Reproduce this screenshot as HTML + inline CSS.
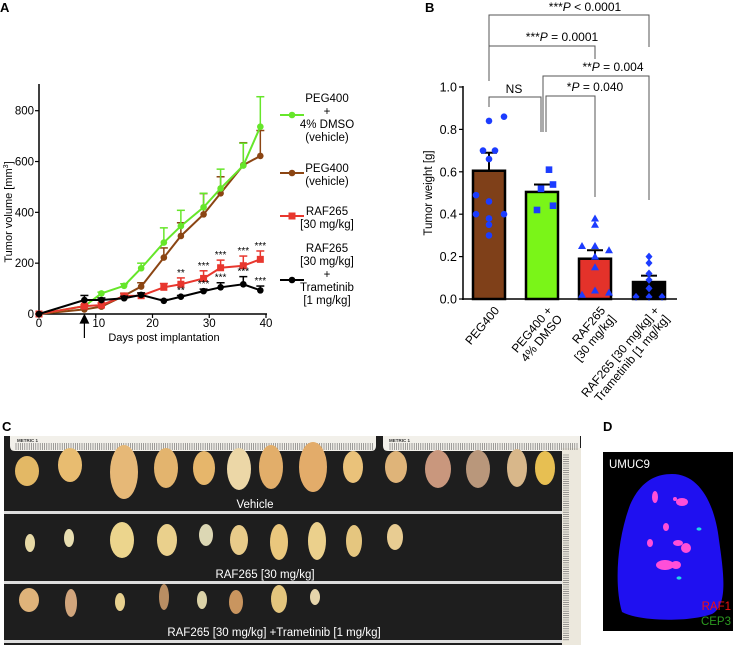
<!DOCTYPE html>
<html><head><meta charset="utf-8"><style>
html,body{margin:0;padding:0;background:#fff;}
svg{display:block;font-family:"Liberation Sans",Arial,sans-serif;}
</style></head><body>
<svg id="fig" width="734" height="645" viewBox="0 0 734 645">
<g id="pA"></g>
<g id="pB"></g>
<g id="pC"></g>
<g id="pD"></g>
</svg>
<script>
// ---- Panel A data ----
const aDays = [0, 8, 11, 15, 18, 22, 25, 29, 32, 36, 39];
const aGreen = [0, 31, 81, 111, 180, 281, 346, 420, 494, 584, 737];
const aGreenErr = [0, 5, 5, 8, 20, 58, 62, 55, 76, 88, 118];
const aBrown = [0, 18, 29, 72, 108, 222, 307, 392, 475, 586, 622];
const aBrownErr = [0, 5, 5, 10, 15, 38, 52, 82, 65, 88, 100];
const aRed = [0, 31, 35, 71, 72, 105, 117, 140, 182, 190, 215];
const aRedErr = [0, 5, 8, 8, 10, 15, 25, 30, 30, 38, 33];
const aBlack = [0, 55, 55, 62, 75, 52, 68, 90, 105, 117, 93];
const aBlackErr = [0, 18, 8, 8, 8, 5, 5, 8, 18, 30, 17];
const aRedStars = ["", "", "", "", "", "", "**", "***", "***", "***", "***"];
const aBlackStars = ["", "", "", "", "", "", "**", "***", "***", "***", "***"];
const aYTicks = [0, 200, 400, 600, 800];
const aXTicks = [0, 10, 20, 30, 40];
// ---- Panel B data ----
const bCats = ["PEG400", "PEG400 + 4% DMSO", "RAF265 [30 mg/kg]", "RAF265 [30 mg/kg] + Trametinib [1 mg/kg]"];
const bMeans = [0.605, 0.505, 0.19, 0.08];
const bErr = [0.085, 0.035, 0.04, 0.03];
const bPts0 = [0.84, 0.86, 0.70, 0.70, 0.66, 0.49, 0.46, 0.40, 0.40, 0.38, 0.35, 0.30];
const bPts1 = [0.61, 0.54, 0.52, 0.44, 0.42];
const bPts2 = [0.38, 0.35, 0.25, 0.25, 0.23, 0.20, 0.15, 0.04, 0.02, 0.03];
const bPts3 = [0.20, 0.17, 0.12, 0.09, 0.05, 0.01, 0.01, 0.01];
const bYTicks = [0.0, 0.2, 0.4, 0.6, 0.8, 1.0];

const NS = "http://www.w3.org/2000/svg";
function mk(parent, tag, attrs, text) {
  const e = document.createElementNS(NS, tag);
  for (const k in attrs) e.setAttribute(k, attrs[k]);
  if (text !== undefined) e.textContent = text;
  parent.appendChild(e);
  return e;
}

// ================= Panel A =================
const A = document.getElementById('pA');
const ax = d => 39 + d * (266 - 39) / 40;
const ay = v => 314 - v * (314 - 110.7) / 800;
let t = mk(A, 'text', {x: 0, y: 12, 'font-size': 13, 'font-weight': 'bold'}, 'A');


let yl = mk(A, 'text', {x: 12, y: 212, 'font-size': 11, 'text-anchor': 'middle', transform: 'rotate(-90 12 212)'});


yl.innerHTML = 'Tumor volume [mm<tspan font-size="7" dy="-4">3</tspan><tspan dy="4">]</tspan>';
let ya = mk(A, 'line', {x1: 39, y1: 84, x2: 39, y2: 314, stroke: '#000', 'stroke-width': 1.5});


let xa = mk(A, 'line', {x1: 39, y1: 314, x2: 267, y2: 314, stroke: '#000', 'stroke-width': 1.5});


aYTicks.forEach(v => {
  mk(A, 'line', {x1: 35, y1: ay(v), x2: 39, y2: ay(v), stroke: '#000', 'stroke-width': 1.2});
  let tl = mk(A, 'text', {x: 34, y: ay(v) + 4, 'font-size': 11.5, 'text-anchor': 'end'}, v);
  
  
});
aXTicks.forEach(v => {
  mk(A, 'line', {x1: ax(v), y1: 314, x2: ax(v), y2: 318, stroke: '#000', 'stroke-width': 1.2});
  let tl = mk(A, 'text', {x: ax(v) + (v === 10 ? 3 : 0), y: 327, 'font-size': 11.5, 'text-anchor': 'middle'}, v);
  
  
});
let xl = mk(A, 'text', {x: 164, y: 341, 'font-size': 11, 'text-anchor': 'middle'}, 'Days post implantation');


let arr = mk(A, 'path', {d: `M${ax(8)} 315 l-4 8 h8 z M${ax(8)} 321 V338`, stroke: '#000', fill: '#000', 'stroke-width': 1.2});



function series(vals, errs, color, marker, name) {
  const g = mk(A, 'g', {});
  
  
  vals.forEach((v, i) => {
    if (errs[i] > 0) {
      mk(g, 'line', {x1: ax(aDays[i]), y1: ay(v), x2: ax(aDays[i]), y2: ay(v + errs[i]), stroke: color, 'stroke-width': 1.5});
      mk(g, 'line', {x1: ax(aDays[i]) - 4, y1: ay(v + errs[i]), x2: ax(aDays[i]) + 4, y2: ay(v + errs[i]), stroke: color, 'stroke-width': 1.5});
    }
  });
  mk(g, 'polyline', {points: vals.map((v, i) => ax(aDays[i]) + ',' + ay(v)).join(' '), fill: 'none', stroke: color, 'stroke-width': 2});
  vals.forEach((v, i) => {
    let m;
    if (marker === 's') m = mk(g, 'rect', {x: ax(aDays[i]) - 3.5, y: ay(v) - 3.5, width: 7, height: 7, fill: color});
    else m = mk(g, 'circle', {cx: ax(aDays[i]), cy: ay(v), r: 3.3, fill: color});
    
    
  });
}
series(aBrown, aBrownErr, '#8B4513', 'c', 'series-peg400');
series(aGreen, aGreenErr, '#66e62a', 'c', 'series-peg400-dmso');
series(aRed, aRedErr, '#e8372e', 's', 'series-raf265');
series(aBlack, aBlackErr, '#000', 'c', 'series-raf265-trametinib');
aRedStars.forEach((s, i) => { if (s) { let e = mk(A, 'text', {x: ax(aDays[i]), y: ay(aRed[i] + aRedErr[i]) - 2, 'font-size': 10, 'text-anchor': 'middle'}, s);   } });
aBlackStars.forEach((s, i) => { if (s) { let e = mk(A, 'text', {x: ax(aDays[i]), y: ay(aBlack[i] + aBlackErr[i]) - 2, 'font-size': 10, 'text-anchor': 'middle'}, s);   } });

// legend
const legItems = [
  {c: '#66e62a', m: 'c', y: 115, lines: ['PEG400', '+', '4% DMSO', '(vehicle)'], ly: 102},
  {c: '#8B4513', m: 'c', y: 173, lines: ['PEG400', '(vehicle)'], ly: 172},
  {c: '#e8372e', m: 's', y: 216, lines: ['RAF265', '[30 mg/kg]'], ly: 215},
  {c: '#000', m: 'c', y: 280, lines: ['RAF265', '[30 mg/kg]', '+', 'Trametinib', '[1 mg/kg]'], ly: 252}
];
legItems.forEach(it => {
  const g = mk(A, 'g', {});
  
  
  mk(g, 'line', {x1: 280, y1: it.y, x2: 304, y2: it.y, stroke: it.c, 'stroke-width': 2});
  if (it.m === 's') mk(g, 'rect', {x: 288.5, y: it.y - 3.5, width: 7, height: 7, fill: it.c});
  else mk(g, 'circle', {cx: 292, cy: it.y, r: 3.3, fill: it.c});
  it.lines.forEach((l, i) => mk(g, 'text', {x: 327, y: it.ly + i * 13, 'font-size': 11.5, 'text-anchor': 'middle'}, l));
});

// ================= Panel B =================
const B = document.getElementById('pB');
const by = v => 299 - v * (299 - 87);
const bx = [489, 542, 595, 649];
const bColors = ['#7f4019', '#7af518', '#e4322a', '#000'];
t = mk(B, 'text', {x: 425, y: 12, 'font-size': 13, 'font-weight': 'bold'}, 'B');


let byl = mk(B, 'text', {x: 432, y: 193, 'font-size': 11.5, 'text-anchor': 'middle', transform: 'rotate(-90 432 193)'}, 'Tumor weight [g]');


bYTicks.forEach(v => {
  mk(B, 'line', {x1: 459, y1: by(v), x2: 463, y2: by(v), stroke: '#000', 'stroke-width': 1.2});
  let tl = mk(B, 'text', {x: 457, y: by(v) + 4.5, 'font-size': 12.5, 'text-anchor': 'end'}, v.toFixed(1));
  
  
});
bMeans.forEach((m, i) => {
  mk(B, 'line', {x1: bx[i], y1: by(m), x2: bx[i], y2: by(m + bErr[i]), stroke: '#000', 'stroke-width': 2});
  mk(B, 'line', {x1: bx[i] - 8, y1: by(m + bErr[i]), x2: bx[i] + 8, y2: by(m + bErr[i]), stroke: '#000', 'stroke-width': 2});
  let r = mk(B, 'rect', {x: bx[i] - 16, y: by(m), width: 32, height: by(0) - by(m), fill: bColors[i], stroke: '#000', 'stroke-width': 2.5});
  
  
});
const offs0 = [0, 15, -6, 6, 0, -13, 0, -13, 15, 0, 0, 0];
const offs1 = [7, 11, -1, 11, -5];
const offs2 = [0, 0, -13, 0, 14, 0, 0, 0, -13, 14];
const offs3 = [0, 0, 0, 0, 0, -13, 0, 13];
function pts(arrV, offs, i, shape) {
  arrV.forEach((v, k) => {
    const x = bx[i] + offs[k], y = by(v);
    let e;
    if (shape === 'c') e = mk(B, 'circle', {cx: x, cy: y, r: 3.3, fill: '#1c3cff'});
    else if (shape === 's') e = mk(B, 'rect', {x: x - 3.3, y: y - 3.3, width: 6.6, height: 6.6, fill: '#1c3cff'});
    else if (shape === 't') e = mk(B, 'path', {d: `M${x} ${y - 4} L${x + 4} ${y + 3} L${x - 4} ${y + 3} Z`, fill: '#1c3cff'});
    else e = mk(B, 'path', {d: `M${x} ${y - 4} L${x + 3.5} ${y} L${x} ${y + 4} L${x - 3.5} ${y} Z`, fill: '#1c3cff'});
    
    
  });
}
pts(bPts0, offs0, 0, 'c'); pts(bPts1, offs1, 1, 's'); pts(bPts2, offs2, 2, 't'); pts(bPts3, offs3, 3, 'd');
let bya = mk(B, 'line', {x1: 463, y1: 86, x2: 463, y2: 300, stroke: '#000', 'stroke-width': 1.5});


let bxa = mk(B, 'line', {x1: 462, y1: 299, x2: 677, y2: 299, stroke: '#000', 'stroke-width': 1.5});


const bLab = [['PEG400'], ['PEG400 +', '4% DMSO'], ['RAF265', '[30 mg/kg]'], ['RAF265 [30 mg/kg] +', 'Trametinib [1 mg/kg]']];
bLab.forEach((ls, i) => {
  const g = mk(B, 'g', {transform: `translate(${bx[i] + 4} 305) rotate(-50)`});
  
  
  ls.forEach((l, k) => mk(g, 'text', {x: 0, y: 9 + k * 13, 'font-size': 12, 'text-anchor': 'end'}, l));
});
// brackets
const brk = [
  {x1: 489, x2: 649, y: 15, l: 81, r: 47, tx: 585, ty: 11, txt: '***', p: ' < 0.0001'},
  {x1: 489, x2: 595, y: 46, l: 53, r: 59, tx: 562, ty: 41, txt: '***', p: ' = 0.0001'},
  {x1: 543, x2: 649, y: 76, l: 132, r: 200, tx: 613, ty: 71, txt: '**', p: ' = 0.004'},
  {x1: 546, x2: 595, y: 96, l: 132, r: 197, tx: 595, ty: 91, txt: '*', p: ' = 0.040'},
  {x1: 489, x2: 541, y: 97, l: 107, r: 132, tx: 514, ty: 93, txt: 'NS', p: ''}
];
brk.forEach(b => {
  const g = mk(B, 'g', {});
  
  
  mk(g, 'path', {d: `M${b.x1} ${b.l} V${b.y} H${b.x2} V${b.r}`, fill: 'none', stroke: '#555', 'stroke-width': 1});
  const tt = mk(g, 'text', {x: b.tx, y: b.ty, 'font-size': 12, 'text-anchor': 'middle'});
  if (b.p) tt.innerHTML = `${b.txt}<tspan font-style="italic">P</tspan>${b.p}`;
  else tt.textContent = b.txt;
});

// ================= Panel C =================
const C = document.getElementById('pC');
t = mk(C, 'text', {x: 2, y: 431, 'font-size': 13, 'font-weight': 'bold'}, 'C');


mk(C, 'rect', {x: 4, y: 436, width: 577, height: 209, fill: '#1e1e1e'});
mk(C, 'path', {d: 'M10 436 H376 V446 Q376 451 371 451 H15 Q10 451 10 446 Z', fill: '#f2f0ea'});
mk(C, 'path', {d: 'M383 436 H580 V451 H388 Q383 451 383 446 Z', fill: '#f2f0ea'});
mk(C, 'rect', {x: 562, y: 448, width: 19, height: 197, fill: '#ece8dd'});
let tk = '';
for (let x = 16; x < 374; x += 2.2) tk += `M${x.toFixed(1)} 443 V450 `;
for (let x = 390; x < 579; x += 2.2) tk += `M${x.toFixed(1)} 443 V450 `;
for (let y = 455; y < 640; y += 2.2) tk += `M563 ${y.toFixed(1)} H569 `;
mk(C, 'path', {d: tk, stroke: '#666', 'stroke-width': 0.6});
mk(C, 'text', {x: 17, y: 442, 'font-size': 4.5, 'font-weight': 'bold', fill: '#333'}, 'METRIC 1');
mk(C, 'text', {x: 389, y: 442, 'font-size': 4.5, 'font-weight': 'bold', fill: '#333'}, 'METRIC 1');
mk(C, 'rect', {x: 4, y: 511, width: 558, height: 3, fill: '#ddd'});
mk(C, 'rect', {x: 4, y: 581, width: 558, height: 3, fill: '#ddd'});
mk(C, 'rect', {x: 4, y: 640, width: 558, height: 3, fill: '#ddd'});
const tum = [
  [27,471,12,15,'#e3b865'],[70,465,12,17,'#e8bc70'],[124,472,14,27,'#e6b877'],[166,468,12,20,'#e3b46e'],[204,468,11,17,'#e6b66b'],[239,469,12,21,'#ecd7a7'],[271,467,12,22,'#e2ae6a'],[313,467,14,25,'#e3ac6a'],[353,467,10,16,'#eac27a'],[396,467,11,16,'#dfb479'],[438,469,13,19,'#c9977d'],[478,469,12,19,'#b9977b'],[517,468,10,19,'#d8b78a'],[545,468,10,17,'#e7bf52'],
  [30,543,5,9,'#e7d9a6'],[69,538,5,9,'#e8deb1'],[122,540,12,18,'#ecd58d'],[167,540,10,16,'#ead08c'],[206,535,7,11,'#dcd7b4'],[239,540,9,15,'#e8cb8a'],[279,542,9,18,'#eac77d'],[317,541,9,19,'#ebd08c'],[354,541,8,16,'#e5c67f'],[395,537,8,13,'#e8cc92'],
  [29,600,10,12,'#dfb37a'],[71,603,6,14,'#d1a57c'],[120,602,5,9,'#e8d18f'],[164,597,5,13,'#b98e63'],[202,600,5,9,'#dcd3a8'],[236,602,7,12,'#c9955f'],[279,599,8,14,'#e3c57d'],[315,597,5,8,'#e6d5ab']
];
tum.forEach(d => {
  let e = mk(C, 'ellipse', {cx: d[0], cy: d[1], rx: d[2], ry: d[3], fill: d[4]});
  
  
});
[['Vehicle', 255, 508], ['RAF265 [30 mg/kg]', 265, 578], ['RAF265 [30 mg/kg] +Trametinib [1 mg/kg]', 274, 636]].forEach(l => {
  let e = mk(C, 'text', {x: l[1], y: l[2], 'font-size': 11.5, fill: '#fff', 'text-anchor': 'middle'}, l[0]);
  
  
});

// ================= Panel D =================
const D = document.getElementById('pD');
t = mk(D, 'text', {x: 603, y: 431, 'font-size': 13, 'font-weight': 'bold'}, 'D');


mk(D, 'rect', {x: 603, y: 452, width: 130, height: 179, fill: '#000'});
let blob = mk(D, 'path', {d: 'M672 474 C700 474 715 505 719 540 C724 575 728 605 712 614 C690 622 640 622 622 612 C614 585 617 540 630 505 C640 482 655 474 672 474 Z', fill: '#1f10f0'});


[[655,497,3,6],[675,499,2,2],[682,502,6,4],[666,527,3,4],[650,543,3,4],[678,543,5,3],[686,548,5,5],[665,565,9,5],[676,565,5,4]].forEach(s => {
  let e = mk(D, 'ellipse', {cx: s[0], cy: s[1], rx: s[2], ry: s[3], fill: '#ff4fd8'});
  
  
});
[[699,529],[679,578]].forEach(s => mk(D, 'ellipse', {cx: s[0], cy: s[1], rx: 2.5, ry: 1.6, fill: '#1fd6e8'}));
mk(D, 'text', {x: 609, y: 468, 'font-size': 11.5, fill: '#fff'}, 'UMUC9');
mk(D, 'text', {x: 731, y: 610, 'font-size': 11.5, fill: '#f01010', 'text-anchor': 'end'}, 'RAF1');
mk(D, 'text', {x: 731, y: 625, 'font-size': 11.5, fill: '#2c9a20', 'text-anchor': 'end'}, 'CEP3');
</script>
</body></html>
